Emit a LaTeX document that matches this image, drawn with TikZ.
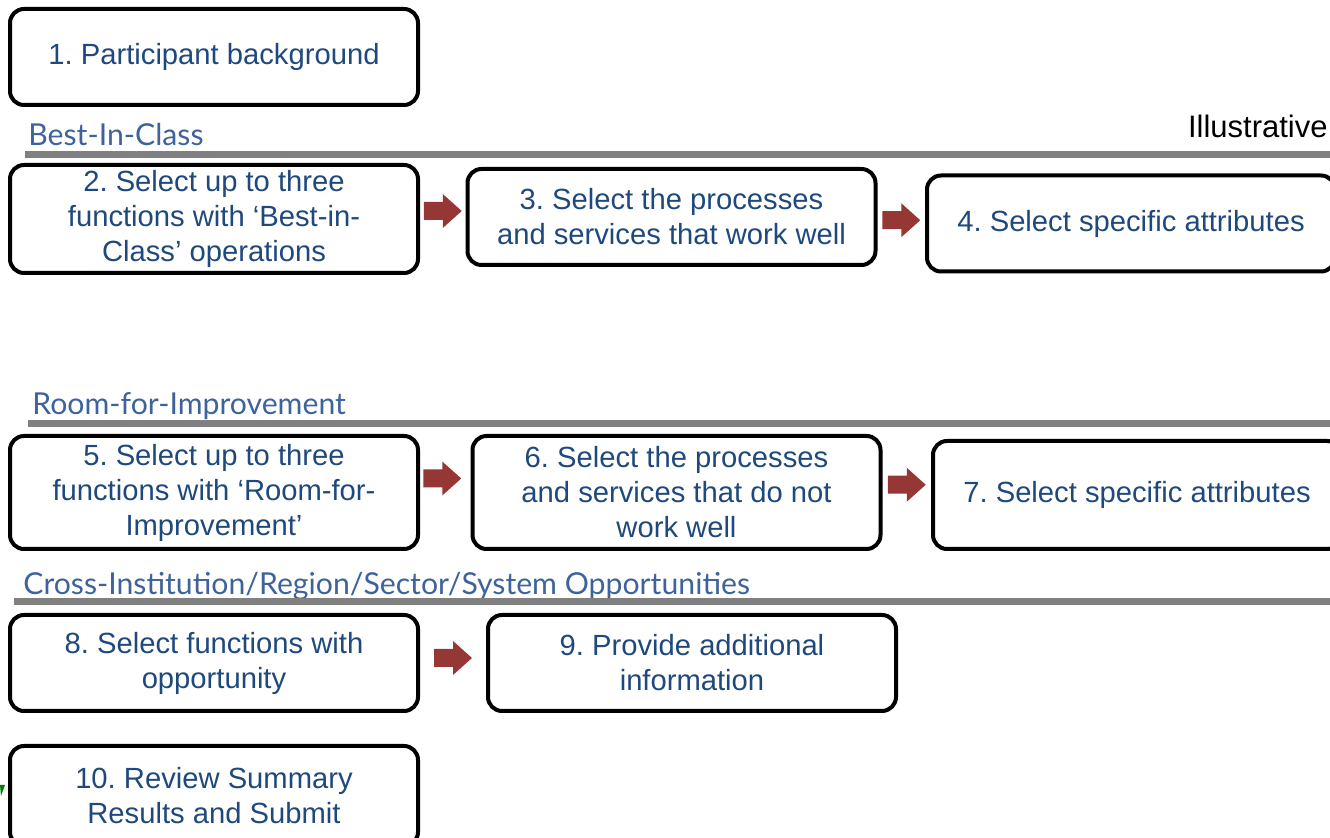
\documentclass[tikz,border=0pt]{standalone}
\usepackage{fontspec}
\setmainfont{Liberation Sans}
\newfontfamily\seclabelfont{Lato}
\usetikzlibrary{calc}
\frenchspacing

\definecolor{boxtext}{RGB}{31,73,125}
\definecolor{sectext}{RGB}{62,98,155}
\definecolor{arrowred}{RGB}{149,55,53}
\definecolor{rulegray}{RGB}{128,128,128}

\tikzset{
  stepbox/.style={draw=black, line width=2pt, rounded corners=7pt, fill=white,
    minimum width=204pt, minimum height=48pt, inner sep=2pt, align=center,
    text=boxtext, font=\fontsize{14.6}{17.5}\selectfont},
  seclabel/.style={anchor=base west, inner sep=0pt, text=sectext,
    font=\seclabelfont\fontsize{15.1}{18}\selectfont},
  secrule/.style={draw=rulegray, line width=3.5pt},
  blockarrow/.pic={
    \fill[arrowred] (-9.5pt,4.5pt) -- (0pt,4.5pt) -- (0pt,8.5pt) -- (9.5pt,0pt)
      -- (0pt,-8.5pt) -- (0pt,-4.5pt) -- (-9.5pt,-4.5pt) -- cycle;
  }
}

\begin{document}
\begin{tikzpicture}[x=0.5pt, y=-0.5pt]
  \useasboundingbox (0,0) rectangle (1330,838);

  % Einstieg
  \node[stepbox] (b1) at (214,57) {1. Participant background};

  % Best-In-Class
  \node[seclabel] (secbest) at (28,146) {Best-In-Class};
  \node[anchor=base east, inner sep=0pt, font=\fontsize{15.5}{18}\selectfont] (illus) at (1328,138) {Illustrative};
  \draw[secrule] (25,155) -- (1330,155);
  \node[stepbox, minimum height=54pt] (b2) at (214,219) {2. Select up to three\\functions with ‘Best-in-\\Class’ operations};
  \node[stepbox] (b3) at (671.5,217) {3. Select the processes\\and services that work well};
  \node[stepbox] (b4) at (1131,223.5) {4. Select specific attributes};
  \pic at ($(b2.east)!0.5!(b3.west)+(0,-7)$) {blockarrow};
  \pic at ($(b3.east)!0.5!(b4.west)$) {blockarrow};

  % Room-for-Improvement
  \node[seclabel] (secroom) at (32,415) {Room-for-Improvement};
  \draw[secrule] (28,424) -- (1330,424);
  \node[stepbox, minimum height=56.5pt] (b5) at (214,492.5) {5. Select up to three\\functions with ‘Room-for-\\Improvement’};
  \node[stepbox, minimum height=56.5pt] (b6) at (676.5,492.5) {6. Select the processes\\and services that do not\\work well};
  \node[stepbox, minimum height=54pt] (b7) at (1137,495) {7. Select specific attributes};
  \pic at ($(b5.east)!0.5!(b6.west)+(-3,-14)$) {blockarrow};
  \pic at ($(b6.east)!0.5!(b7.west)+(0,-9)$) {blockarrow};

  % Cross-Institution
  \node[seclabel] (seccross) at (23,595) {Cross-Institution/Region/Sector/System Opportunities};
  \draw[secrule] (14,602) -- (1330,602);
  \node[stepbox] (b8) at (214,663) {8. Select functions with\\opportunity};
  \node[stepbox] (b9) at (692,663) {9. Provide additional\\information};
  \pic at ($(b8.east)!0.5!(b9.west)+(0,-5)$) {blockarrow};

  % Abschluss
  \node[stepbox, minimum height=50pt] (b10) at (214,796) {10. Review Summary\\Results and Submit};
  \fill[green!50!black] (0,785) -- (5,785) -- (1,796) -- cycle;
\end{tikzpicture}
\end{document}
